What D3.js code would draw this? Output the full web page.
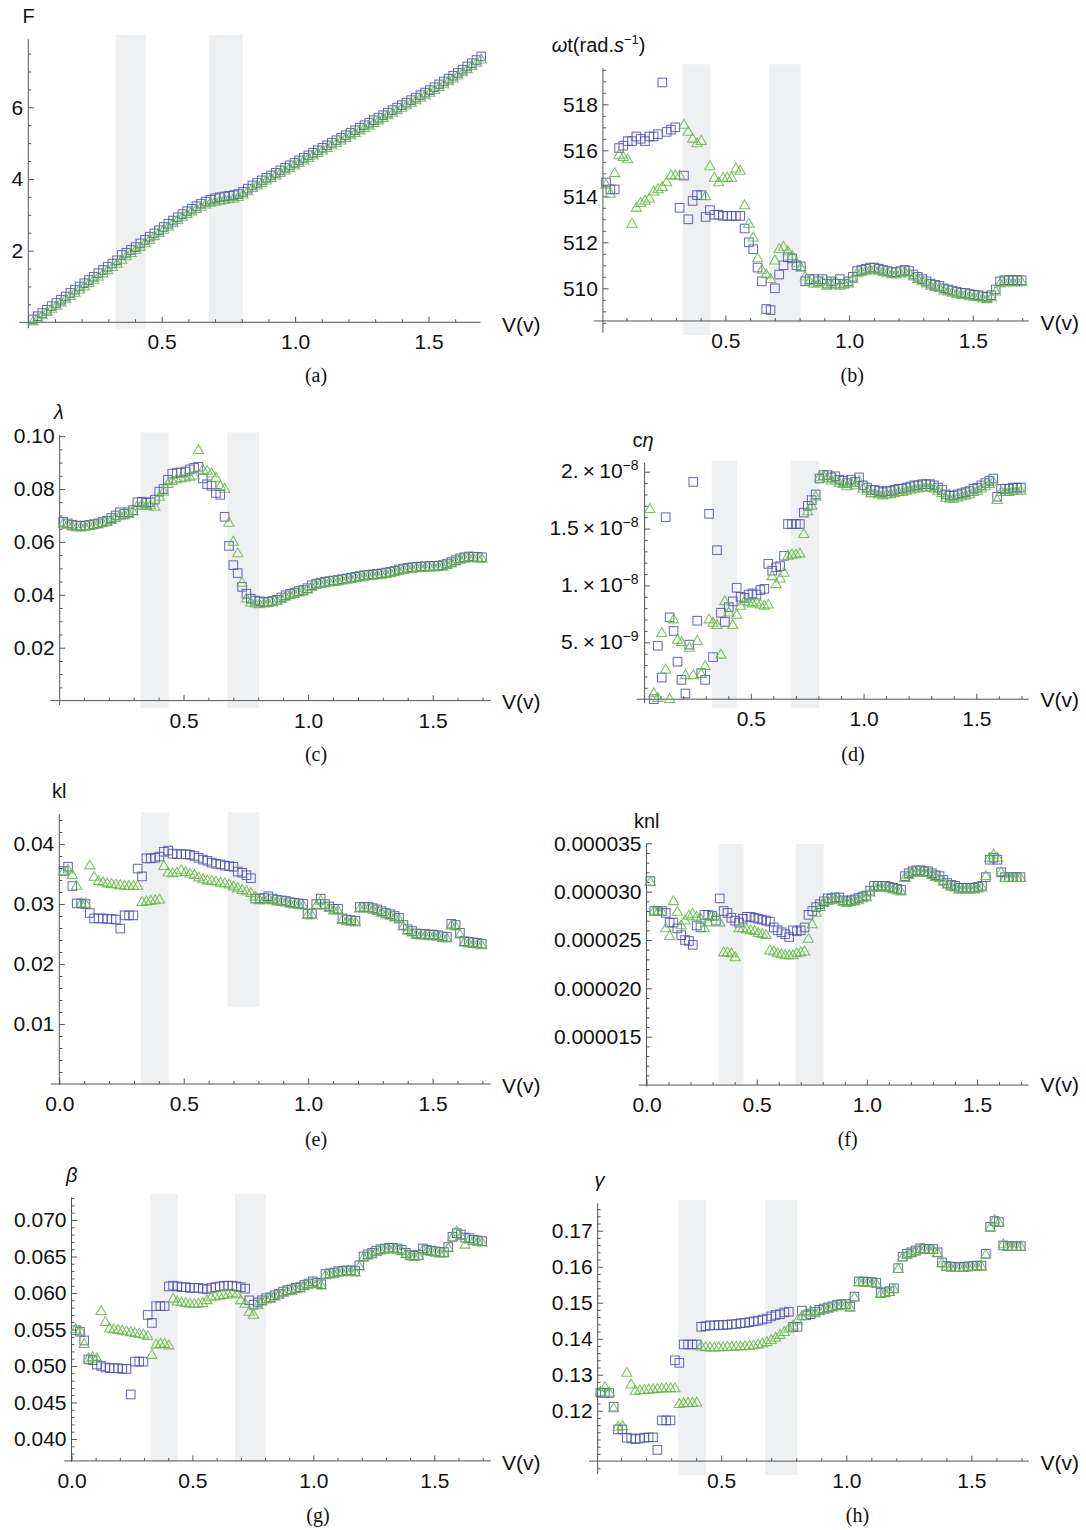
<!DOCTYPE html>
<html>
<head>
<meta charset="utf-8">
<script src="https://cdn.jsdelivr.net/npm/d3@7"></script>
<style>
  html, body { margin: 0; padding: 0; background: #fff; }
  svg { display: block; }
  text { font-family: "Liberation Sans", Arial, sans-serif; fill: #111; }
  .caption { font-family: "Liberation Serif", "DejaVu Serif", serif; }
</style>
</head>
<body>
<svg id="chart" width="1086" height="1530"></svg>
<script>
// Applied voltage V (v) for every sample
const voltage = [
  0.0175,0.035,0.0525,0.07,0.0875,0.105,0.1225,0.14,0.1575,0.175,
  0.1925,0.21,0.2275,0.245,0.2625,0.28,0.2975,0.315,0.3325,0.35,
  0.3675,0.385,0.4025,0.42,0.4375,0.455,0.4725,0.49,0.5075,0.525,
  0.5425,0.56,0.5775,0.595,0.6125,0.63,0.6475,0.665,0.6825,0.7,
  0.7175,0.735,0.7525,0.77,0.7875,0.805,0.8225,0.84,0.8575,0.875,
  0.8925,0.91,0.9275,0.945,0.9625,0.98,0.9975,1.015,1.0325,1.05,
  1.0675,1.085,1.1025,1.12,1.1375,1.155,1.1725,1.19,1.2075,1.225,
  1.2425,1.26,1.2775,1.295,1.3125,1.33,1.3475,1.365,1.3825,1.4,
  1.4175,1.435,1.4525,1.47,1.4875,1.505,1.5225,1.54,1.5575,1.575,
  1.5925,1.61,1.6275,1.645,1.6625,1.68,1.6975
];

// Shaded voltage windows
const bandRanges = [[0.327, 0.440], [0.676, 0.804]];

// (a) F
const forceSquares = [
  0.08,0.17,0.26,0.35,0.45,0.54,0.63,0.72,0.82,0.91,
  1.00,1.09,1.18,1.27,1.37,1.46,1.55,1.64,1.73,1.88,
  1.94,2.02,2.10,2.20,2.30,2.39,2.48,2.57,2.66,2.75,
  2.84,2.93,3.02,3.10,3.17,3.24,3.31,3.37,3.42,3.46,
  3.49,3.51,3.53,3.55,3.58,3.64,3.73,3.82,3.89,3.96,
  4.03,4.10,4.17,4.24,4.31,4.38,4.45,4.52,4.59,4.66,
  4.73,4.80,4.87,4.94,5.01,5.08,5.15,5.22,5.29,5.36,
  5.43,5.50,5.57,5.64,5.71,5.78,5.85,5.92,5.99,6.06,
  6.13,6.20,6.27,6.34,6.41,6.48,6.56,6.64,6.72,6.80,
  6.88,6.96,7.05,7.14,7.23,7.32,7.42
];
const forceTriangles = [
  0.02,0.10,0.19,0.28,0.37,0.46,0.55,0.64,0.73,0.82,
  0.91,1.00,1.09,1.18,1.27,1.36,1.45,1.54,1.63,1.74,
  1.84,1.93,2.01,2.10,2.20,2.30,2.40,2.49,2.58,2.67,
  2.76,2.85,2.94,3.02,3.09,3.16,3.22,3.28,3.33,3.36,
  3.39,3.41,3.43,3.45,3.49,3.56,3.65,3.74,3.81,3.88,
  3.95,4.02,4.09,4.16,4.23,4.30,4.37,4.44,4.51,4.58,
  4.65,4.72,4.79,4.86,4.93,5.00,5.07,5.14,5.21,5.28,
  5.35,5.42,5.49,5.56,5.63,5.70,5.77,5.84,5.91,5.98,
  6.05,6.12,6.19,6.26,6.33,6.40,6.48,6.56,6.64,6.72,
  6.80,6.88,6.97,7.06,7.15,7.24,7.33
];

// (b) ωt (rad/s)
const omegaSquares = [
  514.6,514.3,514.3,516.1,516.2,516.4,516.4,516.6,516.5,516.4,
  516.6,516.6,516.7,518.95,516.8,516.9,517.0,513.5,514.9,513.0,
  513.8,514.05,514.05,513.1,513.4,513.2,513.2,513.15,513.15,513.15,
  513.15,513.15,512.6,512.0,511.7,510.9,510.3,509.1,509.05,510.0,
  510.6,511.0,511.35,511.3,511.0,510.95,510.3,510.4,510.4,510.3,
  510.4,510.2,510.3,510.2,510.4,510.2,510.3,510.5,510.75,510.8,
  510.85,510.9,510.9,510.85,510.8,510.75,510.7,510.7,510.75,510.8,
  510.75,510.6,510.5,510.4,510.3,510.2,510.15,510.1,510.0,509.95,
  509.9,509.85,509.8,509.8,509.75,509.72,509.7,509.65,509.62,509.7,
  509.95,510.3,510.35,510.35,510.35,510.35,510.35
];
const omegaTriangles = [
  514.5,514.1,515.0,515.8,515.7,515.6,512.8,513.5,513.7,513.8,
  513.9,514.2,514.3,514.4,514.6,514.9,514.9,514.9,517.1,516.8,
  516.5,516.3,516.4,514.0,515.3,514.8,514.6,514.8,514.8,514.8,
  515.2,515.1,513.6,512.8,512.2,511.3,510.8,510.6,510.4,511.2,
  511.7,511.8,511.6,511.4,511.1,510.9,510.5,510.3,510.2,510.2,
  510.3,510.1,510.2,510.3,510.1,510.2,510.2,510.4,510.65,510.7,
  510.75,510.8,510.8,510.75,510.7,510.65,510.6,510.6,510.65,510.7,
  510.65,510.5,510.4,510.3,510.2,510.1,510.05,510.0,509.9,509.85,
  509.8,509.75,509.7,509.7,509.65,509.62,509.6,509.55,509.52,509.6,
  509.85,510.2,510.25,510.25,510.25,510.25,510.25
];

// (c) λ
const lambdaSquares = [
  0.0676,0.0670,0.0665,0.0662,0.0660,0.0662,0.0664,0.0667,0.0670,0.0675,
  0.0680,0.0690,0.0700,0.0712,0.0706,0.0712,0.0720,0.0750,0.0752,0.0748,
  0.0750,0.0760,0.0790,0.0800,0.0835,0.0858,0.0862,0.0862,0.0866,0.0874,
  0.0880,0.0884,0.0840,0.0818,0.0812,0.0785,0.0778,0.0695,0.0585,0.0512,
  0.0482,0.0430,0.0404,0.0385,0.0378,0.0375,0.0372,0.0374,0.0377,0.0381,
  0.0390,0.0398,0.0404,0.0408,0.0414,0.0418,0.0425,0.0436,0.0442,0.0446,
  0.0449,0.0452,0.0454,0.0456,0.0459,0.0462,0.0465,0.0468,0.0471,0.0474,
  0.0476,0.0477,0.0479,0.0481,0.0484,0.0487,0.0491,0.0496,0.0499,0.0502,
  0.0504,0.0506,0.0507,0.0508,0.0509,0.0509,0.0510,0.0512,0.0518,0.0524,
  0.0531,0.0538,0.0542,0.0545,0.0544,0.0543,0.0542
];
const lambdaTriangles = [
  0.0668,0.0664,0.0658,0.0655,0.0654,0.0656,0.0659,0.0662,0.0666,0.0670,
  0.0675,0.0682,0.0690,0.0698,0.0700,0.0705,0.0714,0.0736,0.0740,0.0735,
  0.0738,0.0732,0.0770,0.0790,0.0818,0.0830,0.0836,0.0840,0.0843,0.0846,
  0.0850,0.0947,0.0872,0.0868,0.0858,0.0842,0.0810,0.0800,0.0672,0.0600,
  0.0556,0.0445,0.0385,0.0370,0.0366,0.0364,0.0366,0.0368,0.0371,0.0376,
  0.0384,0.0392,0.0398,0.0402,0.0408,0.0412,0.0419,0.0430,0.0436,0.0440,
  0.0443,0.0446,0.0448,0.0450,0.0453,0.0456,0.0459,0.0462,0.0465,0.0468,
  0.0470,0.0471,0.0473,0.0475,0.0478,0.0481,0.0485,0.0490,0.0493,0.0496,
  0.0498,0.0500,0.0501,0.0502,0.0503,0.0503,0.0504,0.0506,0.0512,0.0518,
  0.0525,0.0532,0.0536,0.0539,0.0538,0.0537,0.0536
];

// (d) cη, in units of 1e-9 (null: no sample)
const cEtaSquares = [
  null,null,null,0.0,4.7,1.9,16.0,7.2,6.0,3.3,
  1.7,0.5,4.8,19.1,6.9,2.3,1.7,16.3,3.7,13.1,
  7.6,6.8,8.1,8.6,9.8,9.0,8.9,9.2,9.3,9.2,
  9.6,9.7,11.9,11.3,11.6,11.7,12.6,15.4,15.4,15.4,
  15.4,16.4,17.0,17.5,18.0,19.4,19.7,19.7,19.5,19.6,
  19.3,19.2,19.0,19.3,19.1,19.5,18.8,18.6,18.4,18.4,
  18.3,18.2,18.3,18.3,18.4,18.5,18.5,18.6,18.7,18.8,
  18.8,18.9,18.9,18.9,18.8,18.6,18.4,18.0,17.9,17.9,
  18.0,18.1,18.2,18.3,18.5,18.6,18.8,19.0,19.2,19.4,
  17.8,18.5,18.5,18.5,18.6,18.6,18.6
];
const cEtaTriangles = [
  null,null,16.7,0.5,0.1,5.8,2.6,0.0,7.0,5.2,
  5.0,2.1,4.5,2.1,5.1,2.2,2.9,7.0,6.7,6.5,
  3.9,8.6,7.6,6.5,7.4,8.2,8.6,8.5,8.4,8.5,
  8.3,8.2,8.3,10.8,10.1,10.6,11.1,12.6,12.7,12.7,
  12.8,14.5,16.5,17.0,17.8,19.5,19.6,19.4,19.2,19.3,
  19.0,18.9,18.7,19.0,18.8,19.2,18.5,18.3,18.1,18.1,
  18.0,17.9,18.0,18.0,18.1,18.2,18.2,18.3,18.4,18.5,
  18.5,18.6,18.6,18.6,18.5,18.3,18.1,17.7,17.6,17.6,
  17.7,17.8,17.9,18.0,18.2,18.3,18.5,18.7,18.9,19.1,
  17.5,18.2,18.2,18.2,18.3,18.3,18.3
];

// (e) kl
const klSquares = [
  0.0355,0.0362,0.0330,0.0301,0.0301,0.0300,0.0285,0.0276,0.0276,0.0276,
  0.0275,0.0275,0.0274,0.0259,0.0281,0.0281,0.0281,0.0359,0.0346,0.0376,
  0.0376,0.0377,0.0379,0.0387,0.0389,0.0384,0.0383,0.0383,0.0383,0.0382,
  0.0380,0.0377,0.0374,0.0372,0.0369,0.0367,0.0366,0.0364,0.0363,0.0362,
  0.0354,0.0352,0.0348,0.0343,0.0309,0.0309,0.0310,0.0313,0.0309,0.0307,
  0.0306,0.0305,0.0303,0.0302,0.0301,0.0300,0.0284,0.0284,0.0300,0.0309,
  0.0300,0.0296,0.0292,0.0292,0.0276,0.0274,0.0273,0.0272,0.0295,0.0295,
  0.0295,0.0293,0.0291,0.0288,0.0285,0.0283,0.0280,0.0277,0.0265,0.0258,
  0.0255,0.0251,0.0250,0.0250,0.0249,0.0249,0.0248,0.0246,0.0245,0.0267,
  0.0265,0.0252,0.0238,0.0237,0.0236,0.0235,0.0234
];
const klTriangles = [
  0.0354,0.0357,0.0348,0.0330,0.0301,0.0300,0.0364,0.0345,0.0338,0.0336,
  0.0334,0.0333,0.0332,0.0331,0.0330,0.0330,0.0330,0.0330,0.0303,0.0304,
  0.0305,0.0306,0.0307,0.0363,0.0352,0.0351,0.0352,0.0356,0.0353,0.0350,
  0.0348,0.0344,0.0341,0.0339,0.0338,0.0337,0.0335,0.0334,0.0332,0.0329,
  0.0326,0.0323,0.0321,0.0318,0.0312,0.0306,0.0306,0.0309,0.0306,0.0304,
  0.0303,0.0302,0.0300,0.0299,0.0298,0.0297,0.0281,0.0281,0.0297,0.0305,
  0.0297,0.0293,0.0289,0.0289,0.0273,0.0271,0.0270,0.0269,0.0292,0.0292,
  0.0292,0.0290,0.0288,0.0285,0.0282,0.0280,0.0277,0.0274,0.0262,0.0255,
  0.0252,0.0248,0.0247,0.0247,0.0246,0.0246,0.0245,0.0243,0.0242,0.0264,
  0.0262,0.0249,0.0235,0.0234,0.0233,0.0232,0.0231
];

// (f) knl, in units of 1e-6
const knlSquares = [
  31.1,28.0,28.0,28.0,27.8,26.8,26.8,26.2,25.5,25.0,
  24.9,24.5,26.5,26.3,27.6,27.6,27.5,27.0,29.3,28.0,
  27.8,27.3,27.0,26.8,27.2,27.4,27.4,27.3,27.2,27.1,
  27.0,26.9,26.3,26.0,25.8,25.6,25.3,26.0,25.9,26.0,
  26.3,27.6,28.0,28.4,28.7,29.0,29.3,29.3,29.4,29.4,
  29.1,29.0,29.1,29.2,29.35,29.5,29.6,30.1,30.6,30.6,
  30.6,30.6,30.5,30.4,30.3,30.2,31.6,31.9,32.1,32.2,
  32.2,32.1,32.1,31.9,31.7,31.6,31.2,30.9,30.7,30.6,
  30.4,30.4,30.4,30.4,30.4,30.5,30.6,31.5,33.3,33.5,
  33.3,32.0,31.5,31.5,31.5,31.5,31.5
];
const knlTriangles = [
  31.0,28.0,27.9,27.9,26.2,25.4,29.0,27.9,26.5,27.0,
  27.5,27.7,27.4,27.2,26.2,26.8,27.5,27.4,26.8,23.7,
  23.7,23.6,23.2,26.2,26.2,26.1,26.0,25.9,25.7,25.6,
  25.5,23.9,23.8,23.6,23.5,23.4,23.4,23.4,23.6,23.7,
  23.8,25.1,26.6,27.8,28.4,28.8,29.0,29.1,29.2,29.2,
  28.9,28.8,28.9,29.0,29.1,29.3,29.4,29.9,30.4,30.4,
  30.4,30.4,30.3,30.2,30.1,30.0,31.4,31.7,31.9,32.0,
  32.0,31.9,31.9,31.7,31.5,31.4,31.0,30.7,30.5,30.4,
  30.2,30.2,30.2,30.2,30.2,30.3,30.4,31.6,33.5,33.8,
  33.5,32.0,31.4,31.4,31.4,31.4,31.4
];

// (g) β
const betaSquares = [
  0.0549,0.0547,0.0535,0.0509,0.0508,0.0502,0.0500,0.0498,0.0497,0.0497,
  0.0497,0.0496,0.0496,0.0461,0.0506,0.0506,0.0506,0.0570,0.0559,0.0582,
  0.0582,0.0582,0.0609,0.0610,0.0609,0.0608,0.0608,0.0607,0.0607,0.0607,
  0.0606,0.0605,0.0607,0.0608,0.0609,0.0610,0.0610,0.0610,0.0609,0.0608,
  0.0606,0.0590,0.0584,0.0587,0.0590,0.0593,0.0594,0.0597,0.0599,0.0602,
  0.0604,0.0605,0.0607,0.0608,0.0611,0.0613,0.0616,0.0614,0.0612,0.0626,
  0.0627,0.0628,0.0630,0.0630,0.0631,0.0631,0.0630,0.0638,0.0650,0.0653,
  0.0655,0.0658,0.0660,0.0661,0.0662,0.0662,0.0661,0.0659,0.0655,0.0652,
  0.0651,0.0652,0.0661,0.0659,0.0658,0.0657,0.0656,0.0656,0.0663,0.0677,
  0.0682,0.0680,0.0676,0.0675,0.0673,0.0672,0.0671
];
const betaTriangles = [
  0.0550,0.0548,0.0530,0.0510,0.0512,0.0510,0.0575,0.0560,0.0551,0.0550,
  0.0549,0.0548,0.0547,0.0546,0.0545,0.0544,0.0543,0.0541,0.0515,0.0529,
  0.0530,0.0530,0.0528,0.0592,0.0588,0.0587,0.0586,0.0585,0.0585,0.0585,
  0.0586,0.0590,0.0594,0.0595,0.0596,0.0597,0.0598,0.0600,0.0598,0.0590,
  0.0585,0.0574,0.0570,0.0583,0.0588,0.0591,0.0592,0.0595,0.0597,0.0600,
  0.0602,0.0603,0.0605,0.0606,0.0609,0.0611,0.0614,0.0612,0.0610,0.0624,
  0.0625,0.0626,0.0628,0.0628,0.0629,0.0629,0.0628,0.0636,0.0648,0.0651,
  0.0653,0.0656,0.0658,0.0659,0.0660,0.0660,0.0659,0.0657,0.0653,0.0650,
  0.0649,0.0650,0.0659,0.0657,0.0656,0.0655,0.0654,0.0654,0.0661,0.0676,
  0.0684,0.0678,0.0666,0.0673,0.0671,0.0670,0.0669
];

// (h) γ
const gammaSquares = [
  0.1250,0.1250,0.1249,0.1211,0.1148,0.1148,0.1125,0.1123,0.1121,0.1123,
  0.1125,0.1126,0.1126,0.1091,0.1173,0.1173,0.1173,0.1340,0.1333,0.1384,
  0.1384,0.1384,0.1384,0.1433,0.1435,0.1437,0.1437,0.1438,0.1438,0.1439,
  0.1440,0.1441,0.1443,0.1444,0.1446,0.1448,0.1450,0.1453,0.1456,0.1462,
  0.1466,0.1468,0.1473,0.1475,0.1433,0.1433,0.1478,0.1465,0.1468,0.1475,
  0.1480,0.1484,0.1487,0.1490,0.1494,0.1496,0.1496,0.1489,0.1517,0.1559,
  0.1559,0.1558,0.1557,0.1555,0.1527,0.1529,0.1532,0.1540,0.1596,0.1628,
  0.1636,0.1640,0.1645,0.1651,0.1650,0.1649,0.1649,0.1640,0.1612,0.1602,
  0.1600,0.1599,0.1599,0.1599,0.1601,0.1602,0.1603,0.1603,0.1636,0.1711,
  0.1727,0.1724,0.1659,0.1657,0.1657,0.1657,0.1657
];
const gammaTriangles = [
  0.1252,0.1265,0.1250,0.1206,0.1155,0.1157,0.1305,0.1272,0.1255,0.1256,
  0.1257,0.1258,0.1259,0.1260,0.1261,0.1262,0.1262,0.1262,0.1218,0.1220,
  0.1221,0.1221,0.1222,0.1378,0.1376,0.1375,0.1375,0.1376,0.1376,0.1377,
  0.1377,0.1378,0.1378,0.1379,0.1380,0.1381,0.1383,0.1386,0.1390,0.1396,
  0.1402,0.1410,0.1418,0.1428,0.1436,0.1450,0.1462,0.1472,0.1476,0.1470,
  0.1476,0.1480,0.1483,0.1486,0.1490,0.1492,0.1492,0.1486,0.1514,0.1556,
  0.1556,0.1555,0.1554,0.1552,0.1524,0.1526,0.1529,0.1537,0.1593,0.1625,
  0.1633,0.1637,0.1642,0.1648,0.1647,0.1646,0.1646,0.1637,0.1609,0.1599,
  0.1597,0.1596,0.1596,0.1596,0.1598,0.1599,0.1600,0.1600,0.1633,0.1708,
  0.1730,0.1722,0.1662,0.1655,0.1655,0.1655,0.1655
];

// Tick values and their labels
const vTicks = [0.5, 1.0, 1.5];
const vTickLabels = ["0.5", "1.0", "1.5"];
const vTicksZero = [0, 0.5, 1.0, 1.5];
const vTickLabelsZero = ["0.0", "0.5", "1.0", "1.5"];
const forceTicks = [2, 4, 6];
const forceTickLabels = ["2", "4", "6"];
const omegaTicks = [510, 512, 514, 516, 518];
const omegaTickLabels = ["510", "512", "514", "516", "518"];
const lambdaTicks = [0.02, 0.04, 0.06, 0.08, 0.10];
const lambdaTickLabels = ["0.02", "0.04", "0.06", "0.08", "0.10"];
const cEtaTicks = [5, 10, 15, 20];
const cEtaTickLabels = [["5.", "\u22129"], ["1.", "\u22128"], ["1.5", "\u22128"], ["2.", "\u22128"]];
const klTicks = [0.01, 0.02, 0.03, 0.04];
const klTickLabels = ["0.01", "0.02", "0.03", "0.04"];
const knlTicks = [15, 20, 25, 30, 35];
const knlTickLabels = ["0.000015", "0.000020", "0.000025", "0.000030", "0.000035"];
const betaTicks = [0.040, 0.045, 0.050, 0.055, 0.060, 0.065, 0.070];
const betaTickLabels = ["0.040", "0.045", "0.050", "0.055", "0.060", "0.065", "0.070"];
const gammaTicks = [0.12, 0.13, 0.14, 0.15, 0.16, 0.17];
const gammaTickLabels = ["0.12", "0.13", "0.14", "0.15", "0.16", "0.17"];

// Panel geometry (pixels) and styling
const panels = [
  { sq: forceSquares, tri: forceTriangles, xr: [28.3, 428.5], yd: [0, 6], yr: [322.3, 107.3],
    yAxisV: 0, xAxisY: 0, xLine: [-0.034, 1.695], yLine: [-0.17, 7.9],
    bandLo: [-0.18, -0.15], bandHi: 8.02, yMinorStep: 0.5,
    xt: vTicks, xtl: vTickLabels, yt: forceTicks, ytl: forceTickLabels,
    ylab: [{ t: "F" }], ylabPos: [22.6, 23], xlabPos: [502, 332], cap: "(a)", capPos: [316, 382] },
  { sq: omegaSquares, tri: omegaTriangles, xr: [601.7, 972.8], yd: [510, 518], yr: [288.3, 104.3],
    yAxisV: 0.005, xAxisY: 508.58, xLine: [-0.03, 1.726], yLine: [508.06, 519.57],
    bandLo: [507.97, 508.5], bandHi: 519.74, yMinorStep: 0.5,
    xt: vTicks, xtl: vTickLabels, yt: omegaTicks, ytl: omegaTickLabels,
    ylab: [{ t: "\u03c9", it: true }, { t: "t(rad." }, { t: "s", it: true }, { t: "\u22121", sup: true }, { t: ")" }],
    ylabPos: [551.7, 51.7], xlabPos: [1040.6, 330], cap: "(b)", capPos: [852.2, 382] },
  { sq: lambdaSquares, tri: lambdaTriangles, xr: [58.9, 432.7], yd: [0, 0.1], yr: [700.6, 436.1],
    yAxisV: 0.003, xAxisY: 0, xLine: [-0.034, 1.734], yLine: [-0.0017, 0.1004],
    bandLo: [-0.0029, -0.0029], bandHi: 0.1014, yMinorStep: 0.005,
    xt: vTicks, xtl: vTickLabels, yt: lambdaTicks, ytl: lambdaTickLabels,
    ylab: [{ t: "\u03bb", it: true }], ylabPos: [53.9, 418.5], xlabPos: [502, 709], cap: "(c)", capPos: [316, 761] },
  { sq: cEtaSquares, tri: cEtaTriangles, xr: [638.05, 976.3], yd: [0, 20], yr: [699.2, 471.7],
    yAxisV: 0.029, xAxisY: 0, xLine: [-0.006, 1.733], yLine: [-0.36, 20.8],
    bandLo: [-0.8, -0.8], bandHi: 20.97, yMinorStep: 1,
    xt: vTicks, xtl: vTickLabels, yt: cEtaTicks, ytl: null, ytlSci: cEtaTickLabels,
    ylab: [{ t: "c" }, { t: "\u03b7", it: true }], ylabPos: [632.6, 447], xlabPos: [1040.6, 707], cap: "(d)", capPos: [852.9, 761] },
  { sq: klSquares, tri: klTriangles, xr: [59.3, 432.6], yd: [0, 0.04], yr: [1084, 844],
    yAxisV: 0, xAxisY: 0, xLine: [-0.034, 1.734], yLine: [-0.0002, 0.045],
    bandLo: [-0.0002, 0.01288], bandHi: 0.04528, yMinorStep: 0.002,
    xt: vTicksZero, xtl: vTickLabelsZero, yt: klTicks, ytl: klTickLabels,
    ylab: [{ t: "kl" }], ylabPos: [52.1, 798], xlabPos: [502, 1093], cap: "(e)", capPos: [316, 1146] },
  { sq: knlSquares, tri: knlTriangles, xr: [646.5, 977], yd: [15, 35], yr: [1036.7, 843.3],
    yAxisV: 0, xAxisY: 10, xLine: [-0.036, 1.734], yLine: [9.86, 35.0],
    bandLo: [10.04, 10.04], bandHi: 34.93, yMinorStep: 1,
    xt: vTicksZero, xtl: vTickLabelsZero, yt: knlTicks, ytl: knlTickLabels,
    ylab: [{ t: "knl" }], ylabPos: [634, 828], xlabPos: [1040.6, 1092], cap: "(f)", capPos: [847.7, 1146] },
  { sq: betaSquares, tri: betaTriangles, xr: [71.5, 434.3], yd: [0.04, 0.07], yr: [1439, 1220],
    yAxisV: 0, xAxisY: 0.037, xLine: [-0.03, 1.734], yLine: [0.0369, 0.0731],
    bandLo: [0.03675, 0.03675], bandHi: 0.07356, yMinorStep: 0.001,
    xt: vTicksZero, xtl: vTickLabelsZero, yt: betaTicks, ytl: betaTickLabels,
    ylab: [{ t: "\u03b2", it: true }], ylabPos: [66, 1182], xlabPos: [502, 1470], cap: "(g)", capPos: [318, 1522] },
  { sq: gammaSquares, tri: gammaTriangles, xr: [596.1, 971.4], yd: [0.12, 0.17], yr: [1410.7, 1230.7],
    yAxisV: 0.006, xAxisY: 0.106, xLine: [-0.028, 1.73], yLine: [0.1024, 0.1776],
    bandLo: [0.10214, 0.10214], bandHi: 0.17853, yMinorStep: 0.002,
    xt: vTicks, xtl: vTickLabels, yt: gammaTicks, ytl: gammaTickLabels,
    ylab: [{ t: "\u03b3", it: true }], ylabPos: [594.4, 1187], xlabPos: [1040.6, 1470], cap: "(h)", capPos: [857.5, 1522] }
];

const BLUE = "#5050b4", GREEN = "#62b93e", BAND = "#eff0f2", AXIS = "#555", INK = "#111";
const TICK_FONT = 21, LABEL_FONT = 20;
const SQ = 8.6;                                  // square marker side
const TRI = "M0,-5.6L5.1,3.3L-5.1,3.3Z";         // triangle marker outline
const svg = d3.select("#chart");

function minorTicks(lo, hi, step, majors, skip) {
  const out = [];
  const k0 = Math.ceil(lo / step - 1e-6), k1 = Math.floor(hi / step + 1e-6);
  for (let k = k0; k <= k1; k++) {
    const v = +(k * step).toFixed(10);
    if (majors.some(m => Math.abs(m - v) < step * 0.01)) continue;
    if (skip.some(s => Math.abs(s - v) < step * 0.01)) continue;
    out.push(v);
  }
  return out;
}

function richText(sel, segs, size) {
  let shift = 0;
  segs.forEach(s => {
    const ts = sel.append("tspan").text(s.t);
    if (s.it) ts.attr("font-style", "italic");
    const want = s.sup ? -8 : 0;
    if (want !== shift) { ts.attr("dy", want - shift); shift = want; }
    ts.attr("font-size", s.sup ? Math.round(size * 0.66) : size);
  });
}

function styleAxis(sel) {
  sel.select(".domain").remove();
  sel.attr("font-family", null).attr("font-size", null).attr("color", AXIS);
  sel.selectAll("line").attr("stroke-width", 1);
  sel.selectAll("text").attr("fill", INK).attr("font-size", TICK_FONT);
}

panels.forEach(p => {
  const x = d3.scaleLinear().domain([0, 1.5]).range(p.xr);
  const y = d3.scaleLinear().domain(p.yd).range(p.yr);
  const g = svg.append("g");

  // shaded windows
  bandRanges.forEach((b, k) => {
    g.append("rect")
      .attr("x", x(b[0])).attr("width", x(b[1]) - x(b[0]))
      .attr("y", y(p.bandHi)).attr("height", y(p.bandLo[k]) - y(p.bandHi))
      .attr("fill", BAND);
  });

  const ax = x(p.yAxisV), ay = y(p.xAxisY);

  // axis lines
  g.append("line").attr("x1", x(p.xLine[0])).attr("x2", x(p.xLine[1]))
    .attr("y1", ay).attr("y2", ay).attr("stroke", AXIS).attr("stroke-width", 1);
  g.append("line").attr("x1", ax).attr("x2", ax)
    .attr("y1", y(p.yLine[0])).attr("y2", y(p.yLine[1])).attr("stroke", AXIS).attr("stroke-width", 1);

  // horizontal axis ticks
  const xMinor = minorTicks(Math.max(p.xLine[0], 0.05), p.xLine[1], 0.1, p.xt, [0]);
  g.append("g").attr("transform", `translate(0,${ay})`)
    .call(d3.axisBottom(x).tickValues(xMinor).tickSize(-3).tickFormat(""))
    .call(styleAxis);
  g.append("g").attr("transform", `translate(0,${ay})`)
    .call(d3.axisBottom(x).tickValues(p.xt).tickSize(-5.5).tickPadding(12)
      .tickFormat((d, i) => p.xtl[i]))
    .call(styleAxis);

  // vertical axis ticks, placed at the vertical axis position
  const yMinor = minorTicks(p.yLine[0], p.yLine[1], p.yMinorStep, p.yt, [p.xAxisY]);
  g.append("g").attr("transform", `translate(${ax},0)`)
    .call(d3.axisLeft(y).tickValues(yMinor).tickSize(-3).tickFormat(""))
    .call(styleAxis);
  g.append("g").attr("transform", `translate(${ax},0)`)
    .call(d3.axisLeft(y).tickValues(p.yt).tickSize(-5.5).tickPadding(5)
      .tickFormat(p.ytl ? (d, i) => p.ytl[i] : ""))
    .call(styleAxis);

  // scientific-notation labels: mantissa × 10^exponent
  if (p.ytlSci) {
    p.yt.forEach((v, i) => {
      const [mant, expo] = p.ytlSci[i];
      const t = g.append("text").attr("x", ax - 6).attr("y", y(v)).attr("dy", "0.32em")
        .attr("text-anchor", "end").attr("font-size", TICK_FONT);
      t.append("tspan").text(mant + "\u2009\u00d7\u200910");
      t.append("tspan").text(expo).attr("font-size", 14).attr("dy", -8);
    });
  }

  // axis titles
  const yl = g.append("text").attr("x", p.ylabPos[0]).attr("y", p.ylabPos[1]);
  richText(yl, p.ylab, LABEL_FONT);
  g.append("text").attr("x", p.xlabPos[0]).attr("y", p.xlabPos[1])
    .attr("font-size", 21).text("V(v)");

  // caption
  g.append("text").attr("class", "caption").attr("x", p.capPos[0]).attr("y", p.capPos[1])
    .attr("text-anchor", "middle").attr("font-size", 20).text(p.cap);

  // measurements
  const rows = voltage.map((v, i) => ({ v, s: p.sq[i], t: p.tri[i] }));
  g.append("g").selectAll("rect")
    .data(rows.filter(d => d.s != null))
    .join("rect")
    .attr("x", d => x(d.v) - SQ / 2).attr("y", d => y(d.s) - SQ / 2)
    .attr("width", SQ).attr("height", SQ)
    .attr("fill", "none").attr("stroke", BLUE).attr("stroke-width", 1.05)
    .attr("stroke-opacity", 0.85);
  g.append("g").selectAll("path")
    .data(rows.filter(d => d.t != null))
    .join("path")
    .attr("d", TRI)
    .attr("transform", d => `translate(${x(d.v)},${y(d.t)})`)
    .attr("fill", "none").attr("stroke", GREEN).attr("stroke-width", 1.05)
    .attr("stroke-opacity", 0.85);
});
</script>
</body>
</html>
